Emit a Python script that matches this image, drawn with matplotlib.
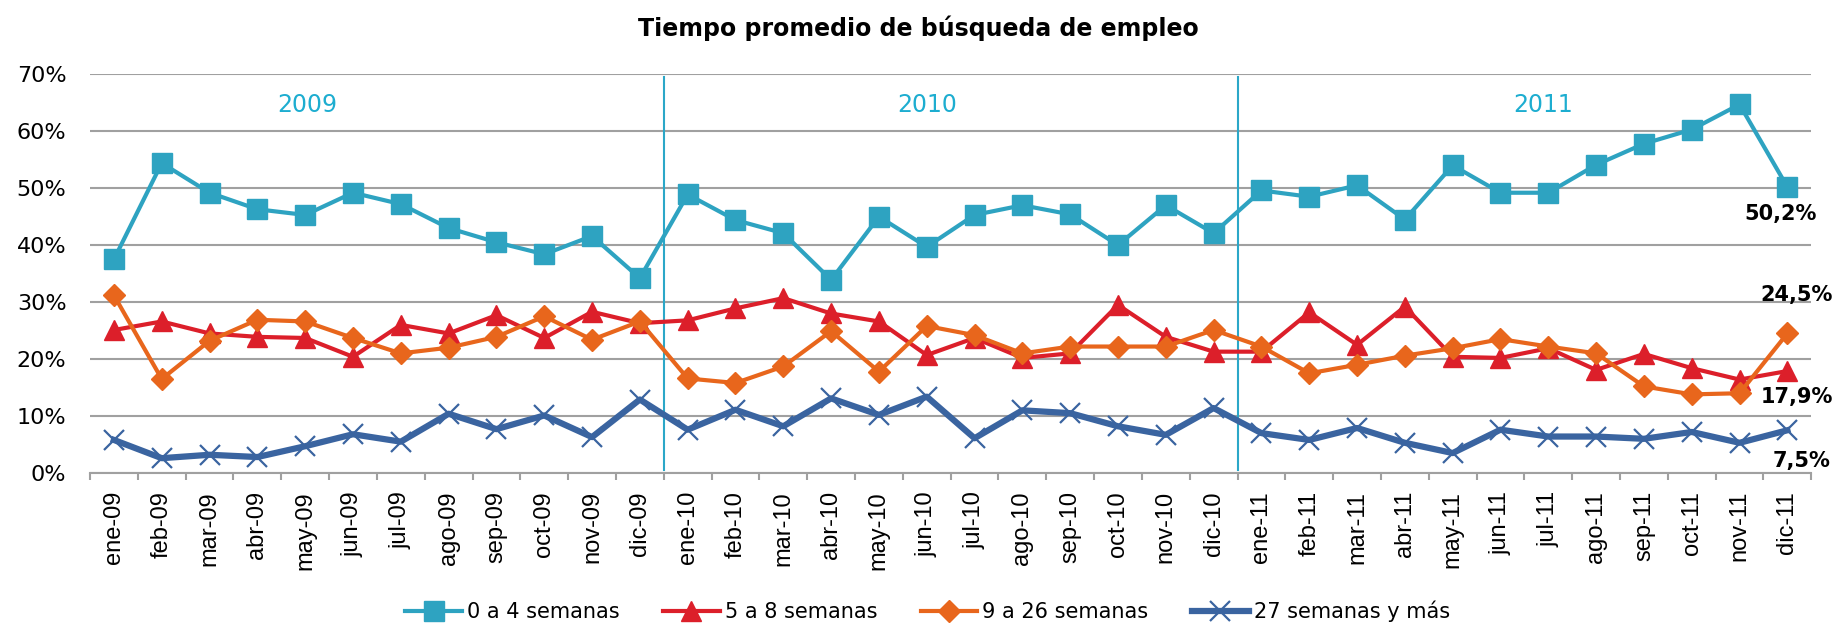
import matplotlib
matplotlib.use('Agg')
import matplotlib.pyplot as plt

months = ['ene', 'feb', 'mar', 'abr', 'may', 'jun', 'jul', 'ago', 'sep', 'oct', 'nov', 'dic']
years = ['09', '10', '11']
labels = [m + '-' + y for y in years for m in months]

s0_4 = [37.5, 54.4, 49.2, 46.3, 45.3, 49.2, 47.2, 43.0, 40.5, 38.4, 41.6, 34.2,
        48.9, 44.4, 42.1, 33.9, 45.0, 39.7, 45.3, 47.0, 45.4, 40.0, 47.0, 42.1,
        49.6, 48.5, 50.5, 44.5, 54.0, 49.2, 49.2, 54.1, 57.8, 60.3, 64.7, 50.2]
s5_8 = [25.1, 26.6, 24.5, 23.9, 23.7, 20.4, 26.0, 24.5, 27.7, 23.7, 28.3, 26.3,
        26.8, 28.9, 30.7, 28.0, 26.6, 20.7, 23.7, 20.2, 21.0, 29.5, 23.9, 21.3,
        21.3, 28.2, 22.5, 29.2, 20.4, 20.2, 21.9, 18.1, 20.9, 18.4, 16.4, 17.9]
s9_26 = [31.2, 16.5, 23.2, 26.9, 26.6, 23.7, 21.0, 22.0, 23.9, 27.5, 23.4, 26.6,
         16.6, 15.8, 18.7, 24.9, 17.8, 25.8, 24.2, 21.0, 22.2, 22.2, 22.2, 25.1,
         22.2, 17.5, 19.0, 20.6, 21.9, 23.5, 22.2, 21.0, 15.2, 13.8, 14.0, 24.5]
s27 = [5.8, 2.6, 3.2, 2.8, 4.7, 6.8, 5.5, 10.4, 7.7, 10.1, 6.3, 12.9,
       7.6, 11.1, 8.2, 13.1, 10.2, 13.4, 6.1, 11.0, 10.5, 8.2, 6.7, 11.4,
       7.0, 5.8, 7.9, 5.3, 3.5, 7.6, 6.4, 6.4, 6.0, 7.2, 5.3, 7.5]

year_names = ['2009', '2010', '2011']
end_labels = ['50,2%', '24,5%', '17,9%', '7,5%']

x = list(range(len(labels)))

fig = plt.figure(figsize=(18.37, 6.24), dpi=100)
ax = fig.add_axes([0.049, 0.242, 0.937, 0.639])

# separadores de año
for b in [11.5, 23.5]:
    ax.plot([b, b], [0.5, 69.5], color='#2BA7C8', lw=1.5, zorder=1)

ax.plot(x, s0_4, color='#2EA3C1', lw=3, marker='s', ms=15, label='0 a 4 semanas', zorder=3)
ax.plot(x, s5_8, color='#DC1F2A', lw=3, marker='^', ms=15, label='5 a 8 semanas', zorder=4)
ax.plot(x, s9_26, color='#E8661C', lw=3, marker='D', ms=11, label='9 a 26 semanas', zorder=5)
ax.plot(x, s27, color='#3A64A0', lw=4.5, marker='x', ms=14, mew=1.6, label='27 semanas y más', zorder=6)

for name, xp in zip(year_names, [4.05, 17.0, 29.9]):
    ax.text(xp, 64.6, name, color='#1DADD0', fontsize=17, ha='center', va='center')

# etiquetas del último dato
for txt, xp, yp in zip(end_labels, [34.85, 35.2, 35.2, 35.3], [45.4, 31.2, 13.3, 2.1]):
    ax.text(xp, yp, txt, fontsize=15, fontweight='bold', ha='center', va='center')

ax.set_xlim(-0.5, 35.5)
ax.set_ylim(0, 70)
ax.set_yticks(range(0, 71, 10))
ax.set_yticklabels([f'{v}%' for v in range(0, 71, 10)], fontsize=16)
ax.set_xticks(x)
ax.set_xticklabels(labels, rotation=90, fontsize=17, family='Liberation Sans')
ax.set_xticks([i - 0.5 for i in range(37)], minor=True)
ax.tick_params(axis='x', which='major', length=0, pad=13)
ax.tick_params(axis='x', which='minor', length=5, width=1.5, color='#A0A0A0')
ax.tick_params(axis='y', length=0, pad=17)
ax.yaxis.grid(True, color='#A0A0A0', lw=1.5)
ax.set_axisbelow(True)
for s in ['left', 'right', 'top']:
    ax.spines[s].set_visible(False)
ax.spines['bottom'].set_color('#A0A0A0')
ax.spines['bottom'].set_linewidth(1.5)

fig.suptitle('Tiempo promedio de búsqueda de empleo', fontsize=17, fontweight='bold', y=0.975)
fig.legend(loc='center', bbox_to_anchor=(0.505, 0.02), ncol=4, frameon=False,
           fontsize=15, handlelength=2.7, columnspacing=2.1, handletextpad=0.25)

fig.savefig('out.png', dpi=100)
